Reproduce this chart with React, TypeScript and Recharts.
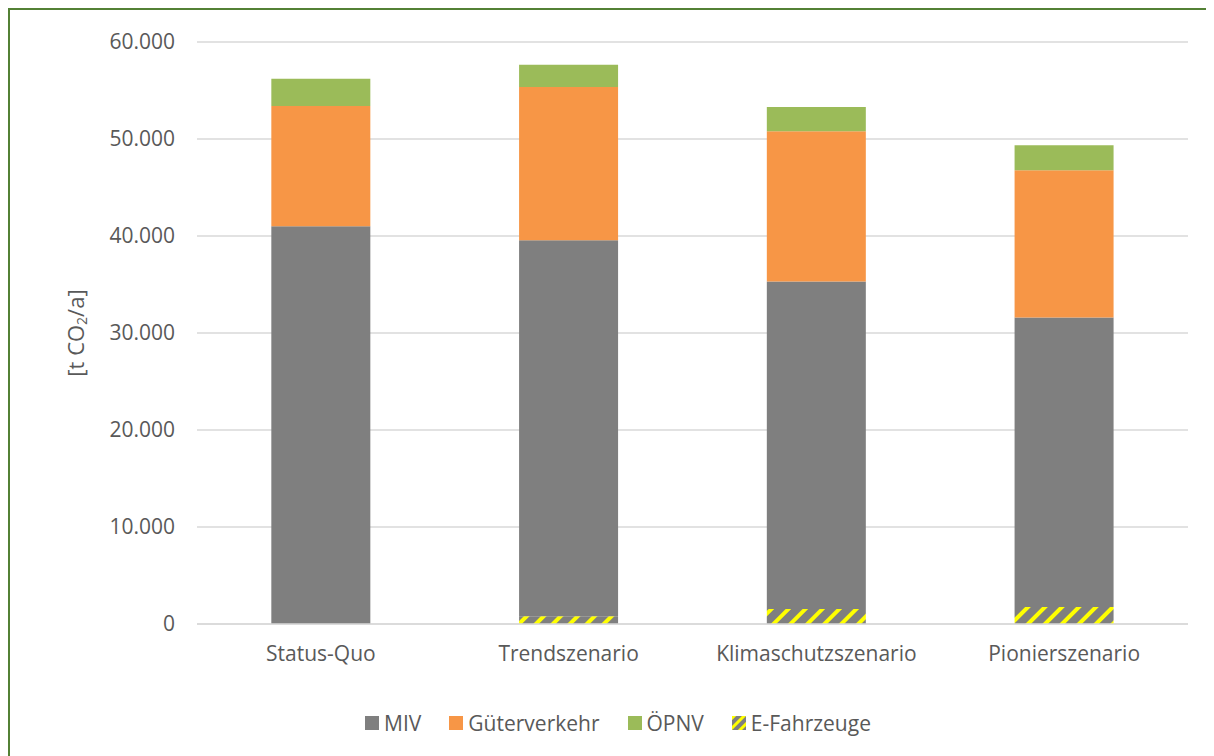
import React from "react";
import {
  BarChart,
  Bar,
  XAxis,
  YAxis,
  CartesianGrid,
  Legend,
} from "recharts";

const scenarios = ["Status-Quo", "Trendszenario", "Klimaschutzszenario", "Pionierszenario"];
// MIV split into the electric share (bottom, hatched) and the rest
const eFahrzeuge = [0, 800, 1550, 1750];
const miv = [41000, 38750, 33770, 29850];
const gueterverkehr = [12400, 15800, 15480, 15180];
const oepnv = [2800, 2300, 2490, 2580];
const yTicks = [0, 10000, 20000, 30000, 40000, 50000, 60000];

const GRAY = "#7f7f7f";
const ORANGE = "#f79646";
const GREEN = "#9bbb59";
const YELLOW = "#ffff00";
const TEXT = "#595959";
const FONT = "'Open Sans', sans-serif";
const FS = 21;

const data = scenarios.map((name, i) => ({
  name,
  eFahrzeuge: eFahrzeuge[i],
  miv: miv[i],
  gueterverkehr: gueterverkehr[i],
  oepnv: oepnv[i],
}));

const fmt = (v: number) => v.toLocaleString("de-DE");

function Hatch({ id }: { id: string }) {
  return (
    <pattern
      id={id}
      patternUnits="userSpaceOnUse"
      width={12}
      height={12}
      patternTransform="rotate(45)"
    >
      <rect width={12} height={12} fill={GRAY} />
      <rect width={4} height={12} fill={YELLOW} />
    </pattern>
  );
}

const legendItems = [
  { key: "miv", label: "MIV", fill: GRAY },
  { key: "gueterverkehr", label: "Güterverkehr", fill: ORANGE },
  { key: "oepnv", label: "ÖPNV", fill: GREEN },
  { key: "eFahrzeuge", label: "E-Fahrzeuge", fill: "hatch" },
];

function ChartLegend() {
  return (
    <div
      style={{
        display: "flex",
        justifyContent: "center",
        gap: 28,
        paddingLeft: 38,
        fontFamily: FONT,
        fontSize: FS,
        color: TEXT,
        lineHeight: "26px",
      }}
    >
      {legendItems.map((item) => (
        <span key={item.key} style={{ display: "flex", alignItems: "center", gap: 5 }}>
          <svg width={14} height={14}>
            {item.fill === "hatch" ? (
              <>
                <defs>
                  <pattern id="legendHatch" patternUnits="userSpaceOnUse" width={7} height={7} patternTransform="rotate(45)">
                    <rect width={7} height={7} fill={GRAY} />
                    <rect width={3} height={7} fill={YELLOW} />
                  </pattern>
                </defs>
                <rect width={14} height={14} fill="url(#legendHatch)" />
              </>
            ) : (
              <rect width={14} height={14} fill={item.fill} />
            )}
          </svg>
          {item.label}
        </span>
      ))}
    </div>
  );
}

function YLabel() {
  return (
    <text
      x={65}
      y={323}
      transform="rotate(-90 65 323)"
      textAnchor="middle"
      dominantBaseline="central"
      fill={TEXT}
      fontFamily={FONT}
      fontSize={22}
    >
      [t CO
      <tspan fontSize={14} dy={6}>2</tspan>
      <tspan dy={-6}>/a]</tspan>
    </text>
  );
}

export default function App() {
  return (
    <div
      style={{
        width: 1204,
        height: 746,
        borderLeft: "2px solid #538135",
        borderTop: "2px solid #538135",
        background: "#fff",
      }}
    >
      <BarChart
        width={1204}
        height={746}
        data={data}
        margin={{ top: 32, right: 26, bottom: 20, left: 0 }}
        barCategoryGap="30%"
      >
        <defs>
          <Hatch id="eHatch" />
        </defs>
        <CartesianGrid vertical={false} stroke="#d9d9d9" strokeWidth={1.5} />
        <XAxis
          dataKey="name"
          tickLine={false}
          tickSize={0}
          tickMargin={22}
          height={86}
          axisLine={{ stroke: "#d9d9d9", strokeWidth: 1.5 }}
          tick={{ fill: TEXT, fontFamily: FONT, fontSize: FS }}
        />
        <YAxis
          width={187}
          domain={[0, 60000]}
          ticks={yTicks}
          tickFormatter={fmt}
          axisLine={false}
          tickLine={false}
          tickSize={0}
          tickMargin={22}
          tick={{ fill: TEXT, fontFamily: FONT, fontSize: FS }}
          label={{ content: () => <YLabel /> }}
        />
        <Legend verticalAlign="bottom" content={() => <ChartLegend />} />
        <Bar dataKey="eFahrzeuge" stackId="a" fill="url(#eHatch)" isAnimationActive={false} />
        <Bar dataKey="miv" stackId="a" fill={GRAY} isAnimationActive={false} />
        <Bar dataKey="gueterverkehr" stackId="a" fill={ORANGE} isAnimationActive={false} />
        <Bar dataKey="oepnv" stackId="a" fill={GREEN} isAnimationActive={false} />
      </BarChart>
    </div>
  );
}
